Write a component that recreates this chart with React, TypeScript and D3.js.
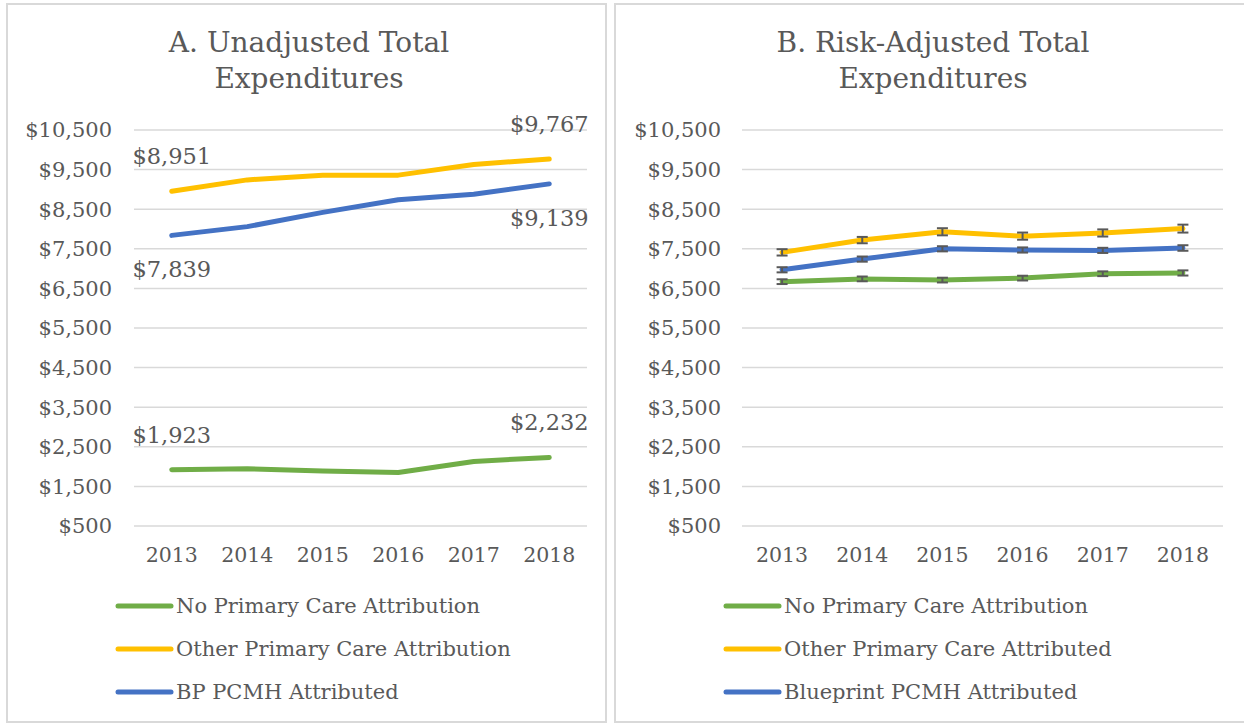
import * as d3 from 'd3';

const years = ['2013', '2014', '2015', '2016', '2017', '2018'];
const yTicks = [500, 1500, 2500, 3500, 4500, 5500, 6500, 7500, 8500, 9500, 10500];

// Panel A – unadjusted
const unadjNoPC = [1923, 1945, 1890, 1850, 2130, 2232];
const unadjOtherPC = [8951, 9240, 9360, 9360, 9630, 9767];
const unadjBP = [7839, 8060, 8420, 8740, 8880, 9139];

// Panel B – risk adjusted (with error bar half-widths)
const adjNoPC = [6670, 6740, 6710, 6760, 6870, 6890];
const adjOtherPC = [7410, 7720, 7930, 7820, 7900, 8010];
const adjBP = [6970, 7240, 7500, 7470, 7460, 7520];
const errNoPC = [60, 60, 60, 60, 60, 65];
const errOtherPC = [80, 80, 90, 90, 90, 100];
const errBP = [65, 65, 65, 65, 65, 70];

const GREEN = '#70AD47';
const YELLOW = '#FFC000';
const BLUE = '#4472C4';
const TEXT = '#595959';
const GRID = '#d9d9d9';
const FONT = 'DejaVu Serif';

const fmt = (v: number) => '$' + d3.format(',')(v);

type Series = { name: string; color: string; values: number[]; err?: number[]; label?: 'above' | 'below' };

function Panel({ x0, width, title, titleCx, plot, series }: {
  x0: number; width: number; title: string[]; titleCx: number;
  plot: { left: number; right: number; labelX: number };
  series: Series[];
}) {
  const x = d3.scaleBand().domain(years).range([plot.left, plot.right]).padding(0);
  const y = d3.scaleLinear().domain([500, 10500]).range([526, 130]);
  const cx = (yr: string) => (x(yr) ?? 0) + x.bandwidth() / 2;
  const line = d3.line<number>().x((_, i) => cx(years[i])).y(d => y(d));

  return (
    <g>
      <rect x={x0 + 7} y={4} width={width - 8} height={718} fill="#fff" stroke={GRID} strokeWidth={2} />
      {title.map((t, i) => (
        <text key={t} x={titleCx} y={52 + i * 36} textAnchor="middle" fontSize={28} fill={TEXT} fontFamily={FONT}>{t}</text>
      ))}
      {yTicks.map(t => (
        <g key={t}>
          <line x1={plot.left} x2={plot.right} y1={y(t)} y2={y(t)} stroke={GRID} strokeWidth={1.5} />
          <text x={plot.labelX} y={y(t)} dy="0.35em" textAnchor="end" fontSize={21} fill={TEXT} fontFamily={FONT}>{fmt(t)}</text>
        </g>
      ))}
      {years.map(yr => (
        <text key={yr} x={cx(yr)} y={555} dy="0.35em" textAnchor="middle" fontSize={20.5} fill={TEXT} fontFamily={FONT}>{yr}</text>
      ))}
      {series.map(s => (
        <g key={s.name}>
          <path d={line(s.values) ?? ''} fill="none" stroke={s.color} strokeWidth={5} strokeLinejoin="round" strokeLinecap="round" />
          {s.err && s.values.map((v, i) => {
            const px = cx(years[i]);
            const hi = y(v + s.err![i]);
            const lo = y(v - s.err![i]);
            return (
              <g key={i} stroke="#595959" strokeWidth={2}>
                <line x1={px} x2={px} y1={hi} y2={lo} />
                <line x1={px - 5.5} x2={px + 5.5} y1={hi} y2={hi} />
                <line x1={px - 5.5} x2={px + 5.5} y1={lo} y2={lo} />
              </g>
            );
          })}
          {s.label && [0, years.length - 1].map(i => (
            <text key={i} x={cx(years[i])} y={y(s.values[i]) + (s.label === 'above' ? -35 : 34)} dy="0.35em"
              textAnchor="middle" fontSize={22.5} fill={TEXT} fontFamily={FONT}>{fmt(s.values[i])}</text>
          ))}
        </g>
      ))}
      {series.map((s, i) => (
        <g key={'lg' + s.name}>
          <line x1={plot.left - 16} x2={plot.left + 37} y1={606 + i * 43} y2={606 + i * 43} stroke={s.color} strokeWidth={5} strokeLinecap="round" />
          <text x={plot.left + 42} y={606 + i * 43} dy="0.35em" fontSize={21} fill={TEXT} fontFamily={FONT}>{s.name}</text>
        </g>
      ))}
    </g>
  );
}

export default function App() {
  return (
    <svg width={1244} height={725} style={{ position: 'absolute', left: 0, top: 0, background: '#fff' }}>
      <Panel
        x0={0} width={607} titleCx={309}
        title={['A. Unadjusted Total', 'Expenditures']}
        plot={{ left: 134, right: 587, labelX: 112 }}
        series={[
          { name: 'No Primary Care Attribution', color: GREEN, values: unadjNoPC, label: 'above' },
          { name: 'Other Primary Care Attribution', color: YELLOW, values: unadjOtherPC, label: 'above' },
          { name: 'BP PCMH Attributed', color: BLUE, values: unadjBP, label: 'below' },
        ]}
      />
      <Panel
        x0={608} width={640} titleCx={933}
        title={['B. Risk-Adjusted Total', 'Expenditures']}
        plot={{ left: 742, right: 1223, labelX: 721 }}
        series={[
          { name: 'No Primary Care Attribution', color: GREEN, values: adjNoPC, err: errNoPC },
          { name: 'Other Primary Care Attributed', color: YELLOW, values: adjOtherPC, err: errOtherPC },
          { name: 'Blueprint PCMH Attributed', color: BLUE, values: adjBP, err: errBP },
        ]}
      />
    </svg>
  );
}
